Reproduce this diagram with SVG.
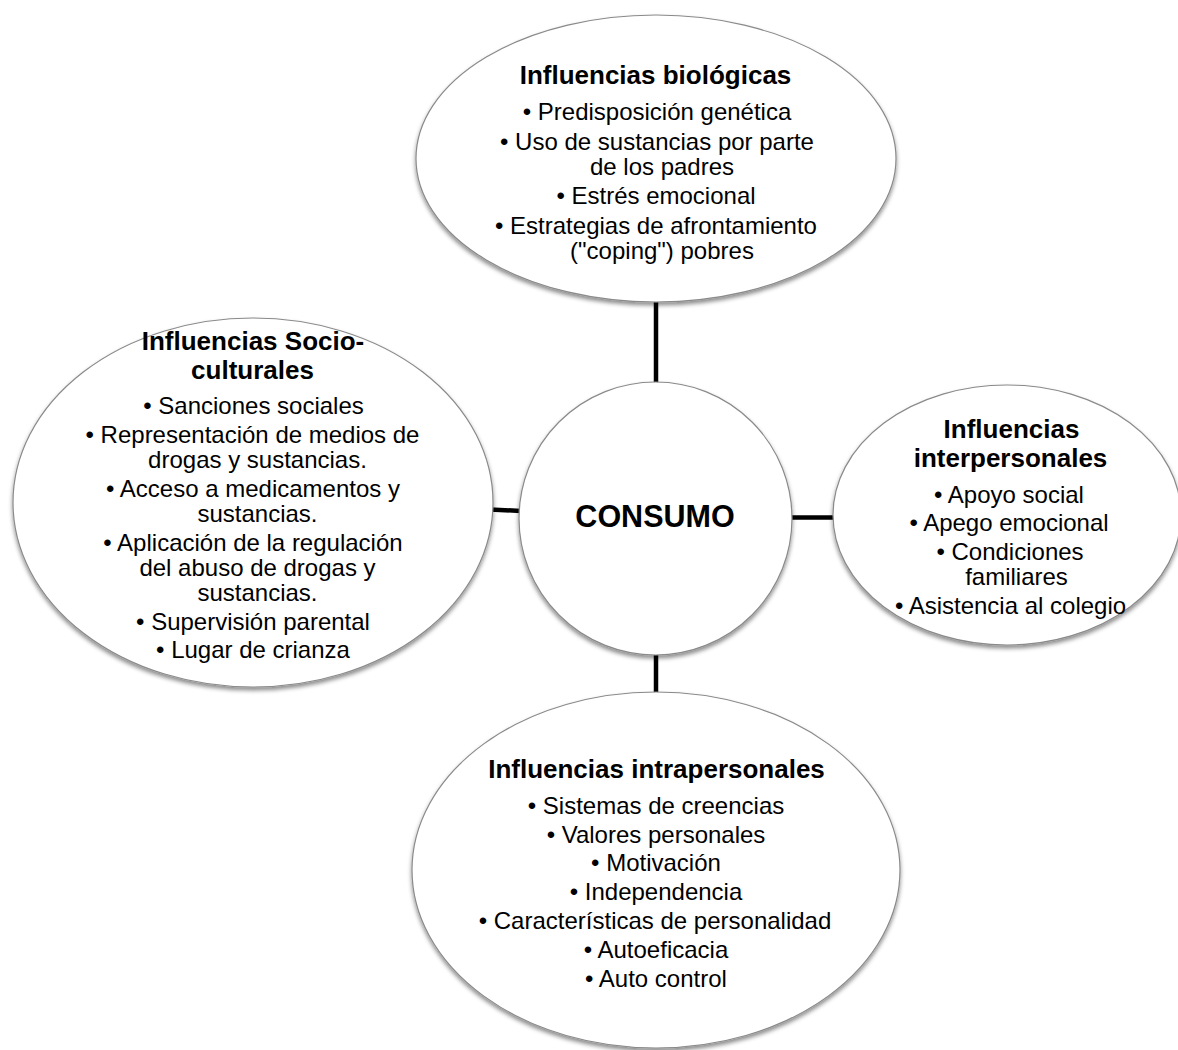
<svg xmlns="http://www.w3.org/2000/svg" width="1178" height="1050" viewBox="0 0 1178 1050">
<defs>
<filter id="sh" x="-10%" y="-10%" width="120%" height="125%">
<feDropShadow dx="0" dy="3" stdDeviation="2.2" flood-color="#000" flood-opacity="0.45"/>
</filter>
<style>
.node{fill:#fff;stroke:#8a8a8a;stroke-width:1.2;filter:url(#sh)}
.con{stroke:#000;stroke-width:4.5;fill:none}
text{font-family:"Liberation Sans",Arial,sans-serif;fill:#000;text-anchor:middle}
.t{font-size:26px;font-weight:bold}
.b{font-size:24px}
.c{font-size:30.5px;font-weight:bold}
</style>
</defs>
<rect width="1178" height="1050" fill="#fff"/>
<g id="connectors">
<line class="con" x1="656" y1="300" x2="656" y2="384"/>
<line class="con" x1="490" y1="509.5" x2="521" y2="511"/>
<line class="con" x1="790" y1="517.5" x2="836" y2="517.5"/>
<line class="con" x1="656" y1="653" x2="656" y2="694"/>
</g>
<g id="biologicas">
<ellipse class="node" cx="656" cy="158.5" rx="240" ry="143.5"/>
<text class="t" x="655.5" y="84">Influencias biológicas</text>
<text class="b" x="657" y="120">• Predisposición genética</text>
<text class="b" x="657" y="150">• Uso de sustancias por parte</text>
<text class="b" x="662" y="175">de los padres</text>
<text class="b" x="656" y="204">• Estrés emocional</text>
<text class="b" x="656" y="234">• Estrategias de afrontamiento</text>
<text class="b" x="662" y="259">("coping") pobres</text>
</g>
<g id="socioculturales">
<ellipse class="node" cx="253" cy="502.5" rx="240" ry="184.5"/>
<text class="t" x="253" y="350">Influencias Socio-</text>
<text class="t" x="252.5" y="379">culturales</text>
<text class="b" x="253.5" y="414">• Sanciones sociales</text>
<text class="b" x="252.5" y="443">• Representación de medios de</text>
<text class="b" x="257.5" y="468">drogas y sustancias.</text>
<text class="b" x="253" y="497">• Acceso a medicamentos y</text>
<text class="b" x="257.5" y="522">sustancias.</text>
<text class="b" x="253" y="551">• Aplicación de la regulación</text>
<text class="b" x="257.5" y="576">del abuso de drogas y</text>
<text class="b" x="257.5" y="601">sustancias.</text>
<text class="b" x="253" y="630">• Supervisión parental</text>
<text class="b" x="253" y="658">• Lugar de crianza</text>
</g>
<g id="consumo">
<circle class="node" cx="655.5" cy="518.5" r="136.5"/>
<text class="c" x="655" y="527">CONSUMO</text>
</g>
<g id="interpersonales">
<ellipse class="node" cx="1007" cy="515" rx="174" ry="130"/>
<text class="t" x="1011.5" y="438">Influencias</text>
<text class="t" x="1010.5" y="467">interpersonales</text>
<text class="b" x="1009" y="503">• Apoyo social</text>
<text class="b" x="1009" y="531">• Apego emocional</text>
<text class="b" x="1010" y="560">• Condiciones</text>
<text class="b" x="1016.5" y="585">familiares</text>
<text class="b" x="1010.5" y="614">• Asistencia al colegio</text>
</g>
<g id="intrapersonales">
<ellipse class="node" cx="656" cy="870" rx="244" ry="178"/>
<text class="t" x="656.5" y="778">Influencias intrapersonales</text>
<text class="b" x="656" y="814">• Sistemas de creencias</text>
<text class="b" x="656" y="843">• Valores personales</text>
<text class="b" x="656" y="871">• Motivación</text>
<text class="b" x="656" y="900">• Independencia</text>
<text class="b" x="655" y="929">• Características de personalidad</text>
<text class="b" x="656" y="958">• Autoeficacia</text>
<text class="b" x="656" y="987">• Auto control</text>
</g>
</svg>
